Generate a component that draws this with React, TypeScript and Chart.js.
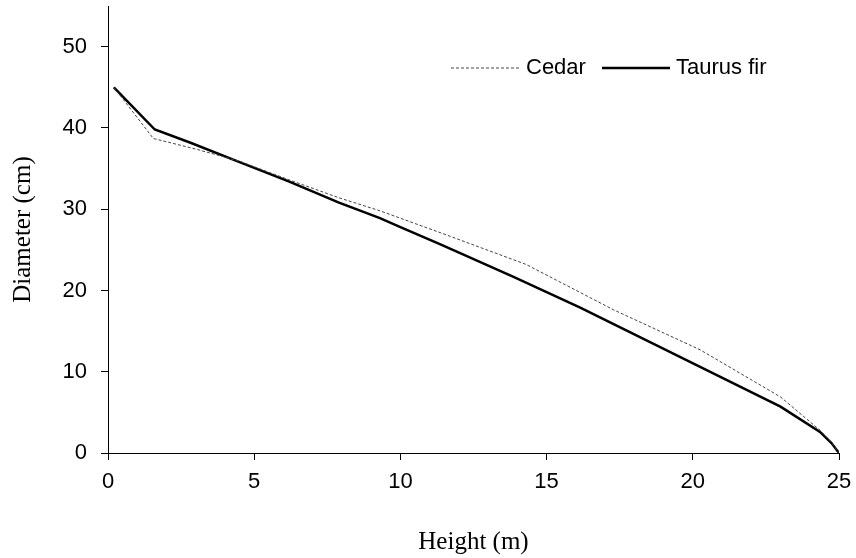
import React, { useEffect, useRef } from "react";
import { Chart, registerables } from "chart.js";

Chart.register(...registerables);

// Height (m) and diameter (cm)
const cedarHeights = [0.2, 1.55, 3.0, 4.5, 6.2, 7.9, 9.3, 11.6, 14.3, 17.3, 20.25, 23.0, 24.35, 24.75, 25];
const cedarDiameters = [45.0, 38.7, 37.4, 35.9, 33.6, 31.4, 29.8, 26.8, 23.2, 17.6, 12.7, 6.9, 2.8, 1.3, 0];

const firHeights = [0.2, 1.6, 2.8, 4.5, 6.2, 7.9, 9.3, 10.0, 11.35, 13.85, 16.15, 17.5, 20.25, 23.0, 24.35, 24.75, 25];
const firDiameters = [45.0, 39.8, 38.2, 35.8, 33.4, 30.8, 28.9, 27.8, 25.7, 21.7, 17.9, 15.5, 10.6, 5.7, 2.6, 1.2, 0];

const seriesNames = ["Cedar", "Taurus fir"];
const xTitle = "Height (m)";
const yTitle = "Diameter (cm)";

const SANS = "'Liberation Sans', Arial, sans-serif";
const SERIF = "'Liberation Serif', 'Times New Roman', serif";

const legendPlugin = {
  id: "insideLegend",
  afterDatasetsDraw(chart: any) {
    const ctx = chart.ctx;
    const items = [
      { x1: 451, x2: 519, tx: 526 },
      { x1: 602, x2: 670, tx: 676 },
    ];
    const y = 68;
    ctx.save();
    chart.data.datasets.forEach((ds: any, i: number) => {
      const it = items[i];
      ctx.beginPath();
      ctx.strokeStyle = ds.borderColor;
      ctx.lineWidth = ds.borderWidth;
      ctx.setLineDash(ds.borderDash || []);
      ctx.moveTo(it.x1, y);
      ctx.lineTo(it.x2, y);
      ctx.stroke();
      ctx.setLineDash([]);
      ctx.fillStyle = "#000";
      ctx.font = `22px ${SANS}`;
      ctx.textBaseline = "middle";
      ctx.textAlign = "left";
      ctx.fillText(ds.label, it.tx, y);
    });
    ctx.restore();
  },
};

export default function App() {
  const ref = useRef<HTMLCanvasElement>(null);
  useEffect(() => {
    if (!ref.current) return;
    const chart = new Chart(ref.current, {
      type: "line",
      data: {
        datasets: [
          {
            label: seriesNames[0],
            data: cedarHeights.map((h, i) => ({ x: h, y: cedarDiameters[i] })),
            borderColor: "#444",
            borderWidth: 1,
            borderDash: [3, 2],
            pointRadius: 0,
            tension: 0,
            fill: false,
          },
          {
            label: seriesNames[1],
            data: firHeights.map((h, i) => ({ x: h, y: firDiameters[i] })),
            borderColor: "#000",
            borderWidth: 2.5,
            pointRadius: 0,
            tension: 0,
            fill: false,
          },
        ],
      },
      options: {
        animation: false,
        responsive: false,
        layout: { padding: { left: 0, top: 6, right: 17, bottom: 0 } },
        plugins: {
          legend: { display: false },
          tooltip: { enabled: false },
        },
        scales: {
          x: {
            type: "linear",
            min: 0,
            max: 25,
            afterFit: (s: any) => {
              s.height = 105;
              s.paddingLeft = 0;
              s.paddingRight = 0;
            },
            ticks: {
              stepSize: 5,
              color: "#000",
              font: { size: 22, family: SANS },
              padding: 9,
              maxRotation: 0,
            },
            grid: {
              drawOnChartArea: false,
              drawTicks: true,
              tickLength: 7,
              color: "#000",
            },
            border: { display: true, color: "#000", width: 1 },
            title: {
              display: true,
              text: xTitle,
              color: "#000",
              font: { size: 25, family: SERIF },
              padding: { top: 0, bottom: 1 },
            },
          },
          y: {
            type: "linear",
            min: 0,
            max: 55,
            afterFit: (s: any) => {
              s.width = 108;
              s.paddingTop = 0;
              s.paddingBottom = 0;
            },
            ticks: {
              stepSize: 10,
              includeBounds: false,
              color: "#000",
              font: { size: 22, family: SANS },
              padding: 14,
            },
            grid: {
              drawOnChartArea: false,
              drawTicks: true,
              tickLength: 7,
              color: "#000",
            },
            border: { display: true, color: "#000", width: 1 },
            title: {
              display: true,
              text: yTitle,
              color: "#000",
              font: { size: 25, family: SERIF },
              padding: { top: 8, bottom: 0 },
            },
          },
        },
      },
      plugins: [legendPlugin],
    } as any);
    return () => chart.destroy();
  }, []);
  return (
    <div style={{ position: "fixed", left: 0, top: 0, width: 856, height: 558, background: "#fff" }}>
      <canvas ref={ref} width={856} height={558} />
    </div>
  );
}
